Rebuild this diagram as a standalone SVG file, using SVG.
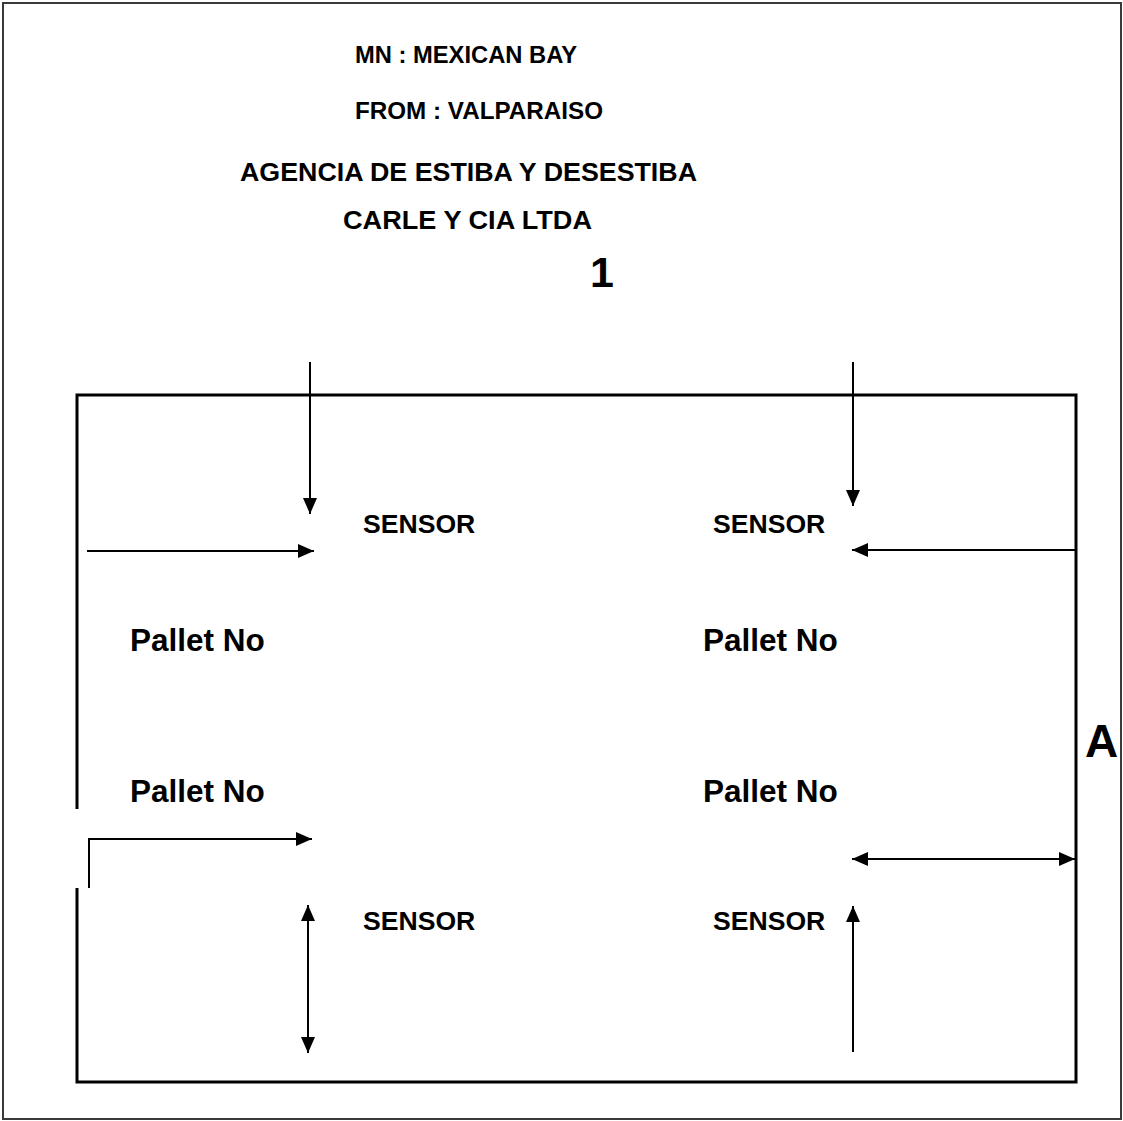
<svg xmlns="http://www.w3.org/2000/svg" width="1123" height="1121" viewBox="0 0 1123 1121">
<style>
text{font-family:"Liberation Sans",Arial,sans-serif;font-weight:bold;fill:#000}
.s{font-size:26.6px}
.p{font-size:31.5px}
.big{font-size:46px}
.c{fill:none;stroke:#000;stroke-width:2}
</style>
<defs>
<marker id="ah" markerUnits="userSpaceOnUse" markerWidth="18" markerHeight="16" refX="16" refY="7" orient="auto-start-reverse" viewBox="0 0 18 14">
<path d="M0,0 L16,7 L0,14 Z" fill="#000"/>
</marker>
</defs>
<rect x="3" y="3" width="1118" height="1116" fill="#fff" stroke="#3a3a3a" stroke-width="2"/>
<g id="frame">
<path d="M77,809 V395 H1076 V1082 H77 V888" fill="none" stroke="#000" stroke-width="3"/>
</g>
<g id="title">
<text x="355" y="63" style="font-size:23.5px" textLength="222" lengthAdjust="spacingAndGlyphs">MN : MEXICAN BAY</text>
<text x="355" y="119" style="font-size:24px" textLength="248" lengthAdjust="spacingAndGlyphs">FROM : VALPARAISO</text>
<text x="240" y="181" style="font-size:25px" textLength="457" lengthAdjust="spacingAndGlyphs">AGENCIA DE ESTIBA Y DESESTIBA</text>
<text x="343" y="229" style="font-size:25px" textLength="249" lengthAdjust="spacingAndGlyphs">CARLE Y CIA LTDA</text>
<text class="big" x="590" y="287" style="font-size:43px">1</text>
</g>
<g id="sensor-tl"><text class="s" x="363" y="533">SENSOR</text></g>
<g id="sensor-tr"><text class="s" x="713" y="533">SENSOR</text></g>
<g id="sensor-bl"><text class="s" x="363" y="930">SENSOR</text></g>
<g id="sensor-br"><text class="s" x="713" y="930">SENSOR</text></g>
<g id="pallet-tl"><text class="p" x="130" y="651">Pallet No</text></g>
<g id="pallet-tr"><text class="p" x="703" y="651">Pallet No</text></g>
<g id="pallet-bl"><text class="p" x="130" y="802">Pallet No</text></g>
<g id="pallet-br"><text class="p" x="703" y="802">Pallet No</text></g>
<g id="label-a"><text class="big" x="1085" y="757">A</text></g>
<g id="connectors">
<line class="c" x1="310" y1="362" x2="310" y2="514" marker-end="url(#ah)"/>
<line class="c" x1="87" y1="551" x2="314" y2="551" marker-end="url(#ah)"/>
<line class="c" x1="853" y1="362" x2="853" y2="506" marker-end="url(#ah)"/>
<line class="c" x1="1075" y1="550" x2="852" y2="550" marker-end="url(#ah)"/>
<path class="c" d="M89,888 V839 H312" marker-end="url(#ah)"/>
<line class="c" x1="852" y1="859" x2="1075" y2="859" marker-start="url(#ah)" marker-end="url(#ah)"/>
<line class="c" x1="853" y1="1052" x2="853" y2="906" marker-end="url(#ah)"/>
<line class="c" x1="308" y1="905" x2="308" y2="1053" marker-start="url(#ah)" marker-end="url(#ah)"/>
</g>
</svg>
